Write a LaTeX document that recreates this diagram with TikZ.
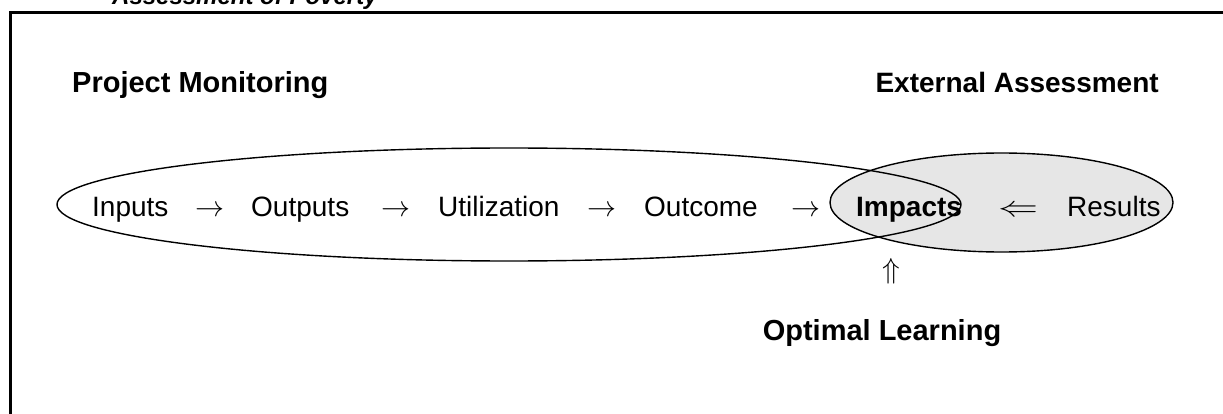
\documentclass[tikz,border=0pt]{standalone}
\usepackage{graphicx}
\usepackage{fontspec}
\setmainfont{Liberation Sans}
\definecolor{ltgray}{HTML}{E6E6E6}
\newcommand{\bigsym}[3]{\scalebox{#1}[#2]{\normalsize$#3$}}
\begin{document}
\begin{tikzpicture}[x=1pt,y=-1pt,
  txt/.style={inner sep=0pt, font=\fontsize{28}{32}\selectfont},
  btxt/.style={inner sep=0pt, font=\fontsize{28}{32}\selectfont\bfseries},
  head/.style={inner sep=0pt, font=\fontsize{29}{33}\selectfont\bfseries},
  ttl/.style={inner sep=0pt, font=\fontsize{24}{28}\selectfont\bfseries\itshape},
  ell/.style={line width=1.4pt}]
\clip (0,0) rectangle (1223,414);
\useasboundingbox (0,0) rectangle (1223,414);
% frame
\draw[line width=3pt] (10,12.5) rectangle (1300,500);
\node[ttl, anchor=base west] (title) at (112,5) {Assessment of Poverty};
% ellipses
\fill[ltgray] (1001.5,202.5) ellipse [x radius=171.5pt, y radius=49.5pt];
\draw[ell] (509,204.5) ellipse [x radius=452pt, y radius=56.5pt];
\draw[ell] (1001.5,202.5) ellipse [x radius=171.5pt, y radius=49.5pt];
% headings
\node[head, anchor=base west] (pm) at (72,93) {Project Monitoring};
\node[btxt, anchor=base east] (ea) at (1159,93) {External Assessment};
% chain
\node[txt, anchor=base west] (inputs) at (92,216) {Inputs};
\node[txt, anchor=base] (a1) at (210,216) {\bigsym{2.9}{2.9}{\rightarrow}};
\node[txt, anchor=base west] (outputs) at (251,216) {Outputs};
\node[txt, anchor=base] (a2) at (396,216) {\bigsym{2.9}{2.9}{\rightarrow}};
\node[txt, anchor=base west] (util) at (438,216) {Utilization};
\node[txt, anchor=base] (a3) at (602,216) {\bigsym{2.9}{2.9}{\rightarrow}};
\node[txt, anchor=base west] (outcome) at (644,216) {Outcome};
\node[txt, anchor=base] (a4) at (806,216) {\bigsym{2.9}{2.9}{\rightarrow}};
\node[btxt, anchor=base west] (impacts) at (856,216) {Impacts};
\node[txt, anchor=base] (a5) at (1018,216) {\bigsym{4}{2.9}{\Leftarrow}};
\node[txt, anchor=base west] (results) at (1067,216) {Results};
\node[txt] (a6) at (891,271) {\bigsym{2.9}{2.9}{\Uparrow}};
\node[head, anchor=base] (learn) at (882,340) {Optimal Learning};
\end{tikzpicture}
\end{document}
